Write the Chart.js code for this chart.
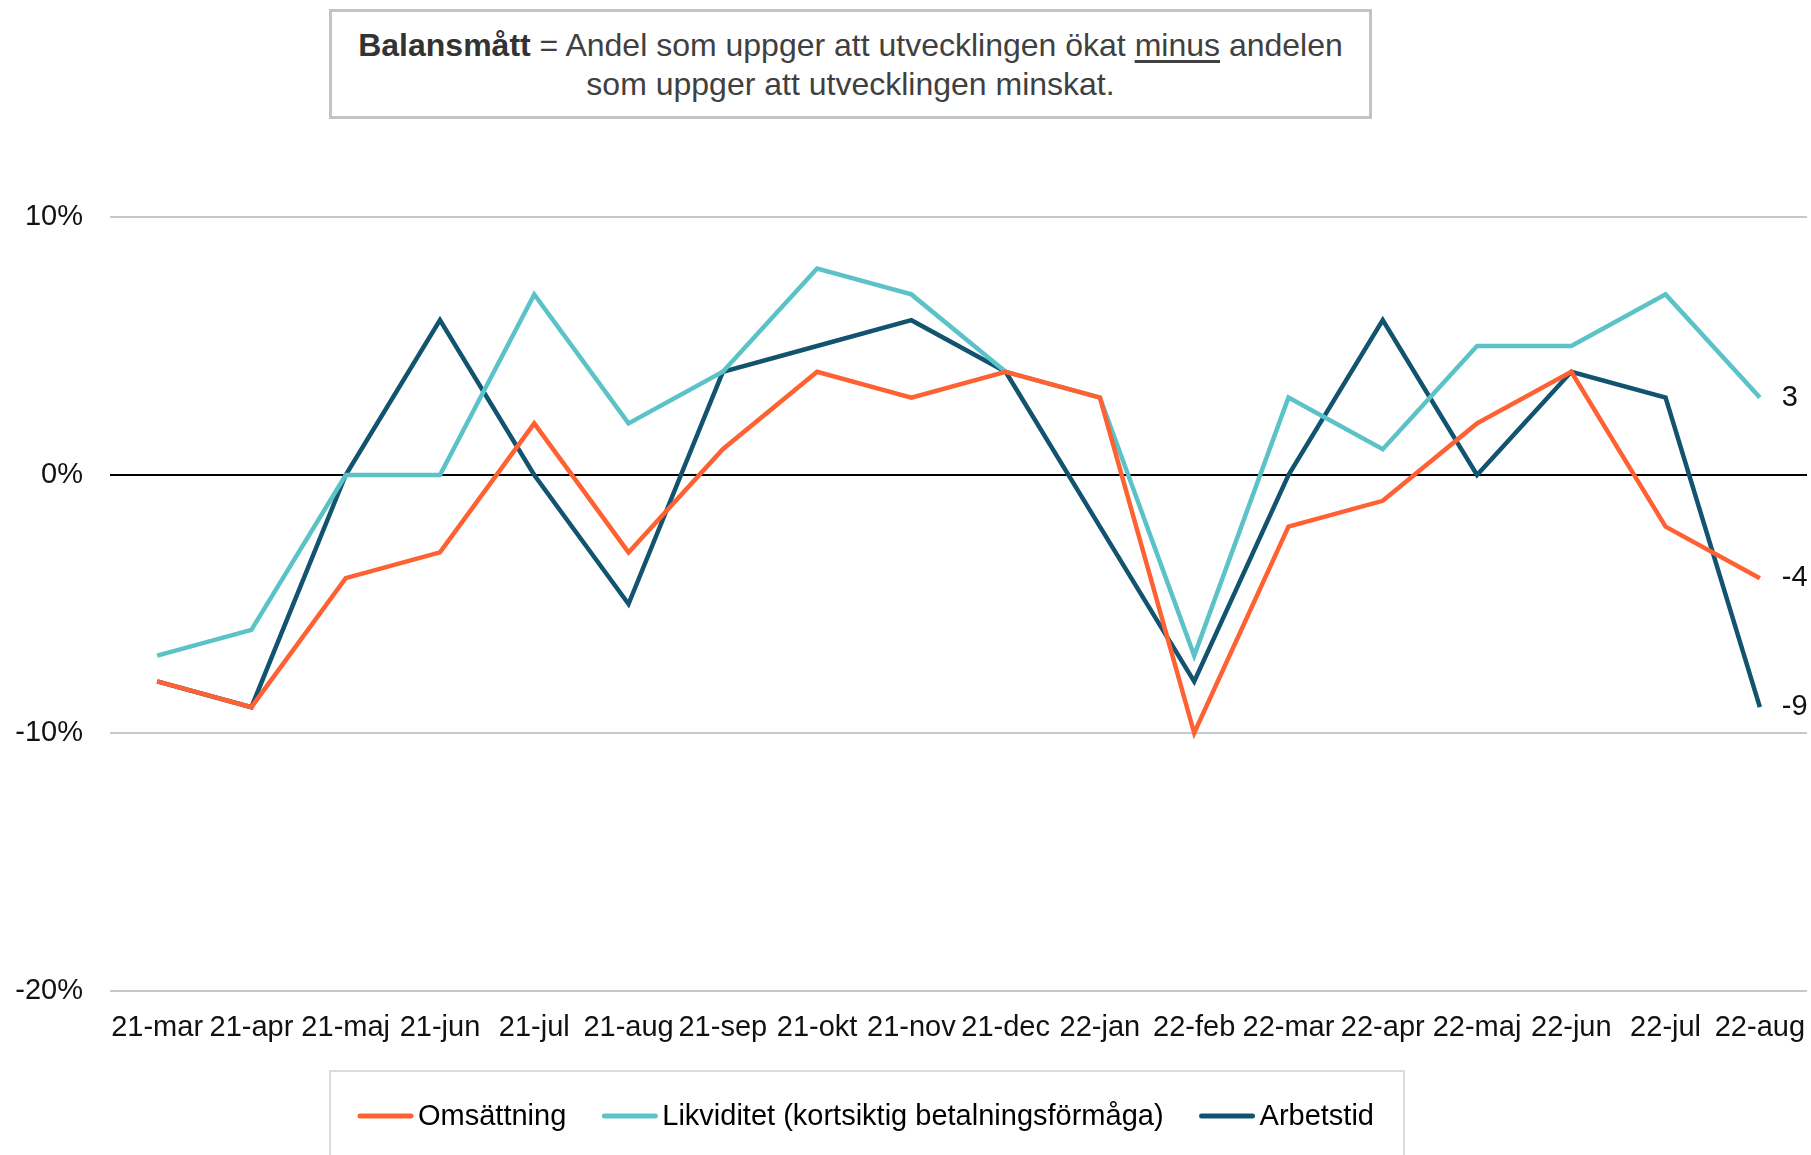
<!DOCTYPE html>
<html>
<head>
<meta charset="utf-8">
<script src="https://cdn.jsdelivr.net/npm/chart.js@4"></script>
<style>
  body { margin: 0; background: #fff; font-family: "Liberation Sans", Arial, sans-serif; }
  .wrap { position: relative; width: 1811px; height: 1155px; overflow: hidden; }
  .note {
    position: absolute; left: 329px; top: 9px; width: 1037px; height: 90px;
    border: 3px solid #c3c3c3; text-align: center; font-size: 32px; line-height: 39px;
    color: #404040; padding-top: 14px;
  }
  .note b { color: #333; }
  .note u { text-underline-offset: 4px; }
  .legend-box {
    position: absolute; left: 329px; top: 1070px; width: 1072px; height: 100px;
    border: 2px solid #dcdcdc;
  }
  canvas { position: absolute; left: 0; top: 0; }
</style>
</head>
<body>
<div class="wrap">
  <div class="legend-box"></div>
  <div class="note"><b>Balansmått</b> = Andel som uppger att utvecklingen ökat <u>minus</u> andelen<br>som uppger att utvecklingen minskat.</div>
  <canvas class="chart" width="1811" height="1155"></canvas>
</div>
<script>
const months = ["21-mar", "21-apr", "21-maj", "21-jun", "21-jul", "21-aug", "21-sep", "21-okt", "21-nov",
  "21-dec", "22-jan", "22-feb", "22-mar", "22-apr", "22-maj", "22-jun", "22-jul", "22-aug"];

const omsattning = [-8, -9, -4, -3, 2, -3, 1, 4, 3, 4, 3, -10, -2, -1, 2, 4, -2, -4];
const likviditet = [-7, -6, 0, 0, 7, 2, 4, 8, 7, 4, 3, -7, 3, 1, 5, 5, 7, 3];
const arbetstid = [-8, -9, 0, 6, 0, -5, 4, 5, 6, 4, -2, -8, 0, 6, 0, 4, 3, -9];

const FONT = "'Liberation Sans', Arial, sans-serif";

// siffran vid sista punkten i varje serie
const endLabels = {
  id: "endLabels",
  afterDatasetsDraw(chart) {
    const { ctx } = chart;
    ctx.save();
    ctx.font = "29px " + FONT;
    ctx.fillStyle = "#111";
    ctx.textAlign = "left";
    ctx.textBaseline = "middle";
    chart.data.datasets.forEach((ds, i) => {
      const meta = chart.getDatasetMeta(i);
      const last = meta.data[meta.data.length - 1];
      ctx.fillText(String(ds.data[ds.data.length - 1]), last.x + 22, last.y);
    });
    ctx.restore();
  },
};

// egen legend: kort linje tätt intill texten, som i Excel
const bottomLegend = {
  id: "bottomLegend",
  afterDraw(chart) {
    const { ctx } = chart;
    const mark = 55, gap = 5, between = 36, cx = 866, cy = 1116;
    ctx.save();
    ctx.font = "29px " + FONT;
    const items = chart.data.datasets.map((ds) => ({
      ds,
      w: ctx.measureText(ds.label).width,
    }));
    const total = items.reduce((s, it) => s + mark + gap + it.w, 0) + between * (items.length - 1);
    let x = cx - total / 2;
    ctx.textBaseline = "middle";
    ctx.textAlign = "left";
    items.forEach(({ ds, w }) => {
      ctx.strokeStyle = ds.borderColor;
      ctx.lineWidth = 5;
      ctx.lineCap = "round";
      ctx.beginPath();
      ctx.moveTo(x + 2, cy);
      ctx.lineTo(x + mark - 2, cy);
      ctx.stroke();
      ctx.fillStyle = "#000";
      ctx.fillText(ds.label, x + mark + gap, cy + 1);
      x += mark + gap + w + between;
    });
    ctx.restore();
  },
};

const line = (label, data, color) => ({
  label,
  data,
  borderColor: color,
  backgroundColor: color,
  borderWidth: 4.5,
  pointRadius: 0,
  tension: 0,
  fill: false,
});

new Chart(document.querySelector(".chart").getContext("2d"), {
  type: "line",
  data: {
    labels: months,
    datasets: [
      line("Omsättning", omsattning, "#ff6133"),
      line("Likviditet (kortsiktig betalningsförmåga)", likviditet, "#5bc3c8"),
      line("Arbetstid", arbetstid, "#125470"),
    ],
  },
  options: {
    responsive: false,
    animation: false,
    layout: { padding: { top: 217, right: 4, left: 0, bottom: 94 } },
    plugins: {
      tooltip: { enabled: false },
      legend: { display: false },
    },
    scales: {
      x: {
        offset: true,
        grid: { display: false, drawTicks: false },
        border: { display: false },
        afterFit: (s) => {
          s.height = 70;
          s.paddingLeft = 0;
          s.paddingRight = 0;
        },
        ticks: {
          autoSkip: false,
          maxRotation: 0,
          padding: 20,
          color: "#111",
          font: { family: FONT, size: 29 },
        },
      },
      y: {
        min: -20,
        max: 10,
        afterFit: (s) => { s.width = 110; },
        grid: {
          drawTicks: false,
          lineWidth: 2,
          color: (c) => (c.tick && c.tick.value === 0 ? "#000" : "#c8c8c8"),
        },
        border: { display: false },
        ticks: {
          stepSize: 10,
          padding: 27,
          color: "#111",
          font: { family: FONT, size: 29 },
          callback: (v) => v + "%",
        },
      },
    },
  },
  plugins: [endLabels, bottomLegend],
});
</script>
</body>
</html>
